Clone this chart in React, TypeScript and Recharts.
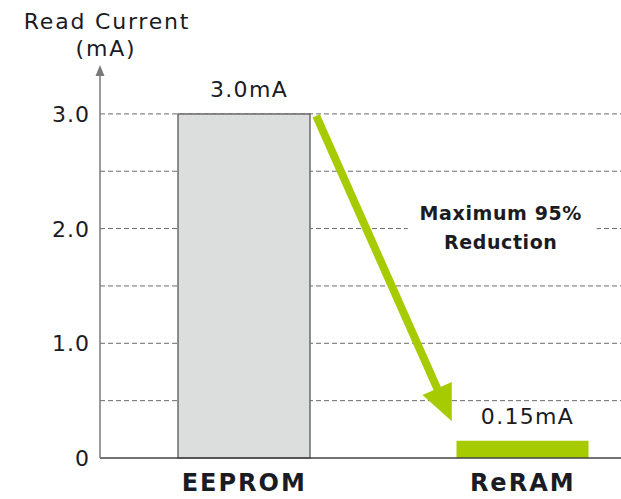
import {
  BarChart,
  Bar,
  XAxis,
  YAxis,
  CartesianGrid,
  Cell,
  LabelList,
  Label,
  ReferenceLine,
  ReferenceDot,
} from 'recharts'

const categories = ['EEPROM', 'ReRAM']
const readCurrent = [3.0, 0.15]
const valueLabels = ['3.0mA', '0.15mA']
const yTicks = [0, 0.5, 1, 1.5, 2, 2.5, 3]
const yTickLabels: Record<number, string> = { 0: '0', 1: '1.0', 2: '2.0', 3: '3.0' }
const barColors = ['#dcdddd', '#a6cc00']
const barStrokes = ['#6b6b6b', 'none']
const yMax = 3.4

// annotation arrow: from top of EEPROM bar down toward ReRAM
const arrowFrom = { cat: 'EEPROM', value: 3.0 }
const arrowTo = { cat: 'ReRAM', value: 0.32 }
const noteLines = ['Maximum 95%', 'Reduction']

const FONT = "'DejaVu Sans', sans-serif"
const TEXT = '#1b1b24'
const GREEN = '#a6cc00'

const data = categories.map((name, i) => ({
  name,
  value: readCurrent[i],
  label: valueLabels[i],
}))

function YTick({ x, y, payload }: any) {
  const txt = yTickLabels[payload.value]
  if (!txt) return null
  return (
    <text x={x - 2} y={y} dy={8} textAnchor="end" fontFamily={FONT} fontSize={22} letterSpacing={1} fill={TEXT}>
      {txt}
    </text>
  )
}

function XTick({ x, y, payload }: any) {
  return (
    <text x={x} y={y} dy={25} textAnchor="middle" fontFamily={FONT} fontSize={24} fontWeight={700} letterSpacing={2} fill={TEXT}>
      {payload.value}
    </text>
  )
}

function ValueLabel({ x, y, width, value }: any) {
  return (
    <text x={x + width / 2 + 5} y={y - 17} textAnchor="middle" fontFamily={FONT} fontSize={22} letterSpacing={1.3} fill={TEXT}>
      {value}
    </text>
  )
}

function Title({ viewBox }: any) {
  const cx = viewBox.x + viewBox.width + 7
  return (
    <text textAnchor="middle" fontFamily={FONT} fontSize={22} letterSpacing={1.8} fill={TEXT}>
      <tspan x={cx} y={viewBox.y - 39}>Read Current</tspan>
      <tspan x={cx - 1} y={viewBox.y - 12}>(mA)</tspan>
    </text>
  )
}

function AxisArrow({ x1, y1 }: any) {
  return <polygon points={`${x1},${y1 - 3} ${x1 - 4.5},${y1 + 8} ${x1 + 4.5},${y1 + 8}`} fill="#7a7a7a" />
}

function BigArrow({ x1, y1, x2, y2 }: any) {
  const sx = x1 + 72
  const sy = y1 + 2
  const tx = x2 - 71
  const ty = y2
  const dx = tx - sx
  const dy = ty - sy
  const len = Math.sqrt(dx * dx + dy * dy)
  const ux = dx / len
  const uy = dy / len
  const head = 36
  const half = 16
  const bx = tx - ux * head
  const by = ty - uy * head
  return (
    <g>
      <line x1={sx} y1={sy} x2={bx + ux * 2} y2={by + uy * 2} stroke={GREEN} strokeWidth={8} />
      <polygon
        points={`${tx},${ty} ${bx - uy * half},${by + ux * half} ${bx + uy * half},${by - ux * half}`}
        fill={GREEN}
      />
    </g>
  )
}

function Note({ cx, cy }: any) {
  const x = cx - 22
  return (
    <g>
      <rect x={cx - 115} y={cy - 33} width={189} height={62} fill="#fff" />
      <text textAnchor="middle" fontFamily={FONT} fontSize={19} fontWeight={700} letterSpacing={0.6} fill={TEXT}>
        <tspan x={x} y={cy - 9}>{noteLines[0]}</tspan>
        <tspan x={x} y={cy + 20}>{noteLines[1]}</tspan>
      </text>
    </g>
  )
}

export default function App() {
  return (
    <div style={{ position: 'absolute', left: 0, top: 0, width: 621, height: 499, overflow: 'hidden', background: '#fff' }}>
      <BarChart width={662} height={499} data={data} margin={{ top: 68, right: 0, bottom: 0, left: 0 }}>
        <CartesianGrid
          vertical={false}
          stroke="#6a6a6a"
          strokeDasharray="5 3"
          horizontalValues={yTicks.filter((v) => v > 0)}
        />
        <XAxis
          dataKey="name"
          height={41}
          padding={{ left: 5, right: 0 }}
          axisLine={{ stroke: '#444', strokeWidth: 1.5 }}
          tickLine={false}
          tick={<XTick />}
        />
        <YAxis
          width={100}
          domain={[0, yMax]}
          ticks={yTicks}
          interval={0}
          axisLine={{ stroke: '#7a7a7a', strokeWidth: 1.5 }}
          tickLine={false}
          tick={<YTick />}
        >
          <Label content={<Title />} />
        </YAxis>
        <Bar dataKey="value" barSize={132} isAnimationActive={false}>
          {data.map((d, i) => (
            <Cell key={d.name} fill={barColors[i]} stroke={barStrokes[i]} strokeWidth={1.5} />
          ))}
          <LabelList dataKey="label" content={<ValueLabel />} />
        </Bar>
        <ReferenceLine y={yMax} stroke="none" shape={<AxisArrow />} />
        <ReferenceDot x={categories[1]} y={2.0} r={0} shape={<Note />} />
        <ReferenceLine
          segment={[
            { x: arrowFrom.cat, y: arrowFrom.value },
            { x: arrowTo.cat, y: arrowTo.value },
          ]}
          shape={<BigArrow />}
        />
      </BarChart>
    </div>
  )
}
